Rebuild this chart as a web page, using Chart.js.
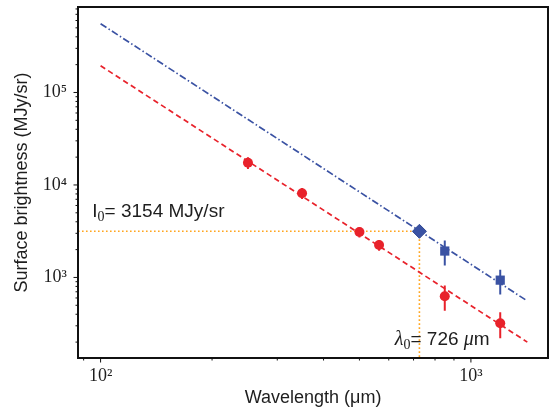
<!DOCTYPE html>
<html>
<head>
<meta charset="utf-8">
<script src="https://cdn.jsdelivr.net/npm/chart.js@4.4.1/dist/chart.umd.min.js"></script>
<style>
  html, body { margin: 0; padding: 0; background: #fff; }
  canvas { display: block; }
</style>
</head>
<body>
<canvas id="grafico" width="551" height="411"></canvas>
<script>
// valores
const redLambda = [250, 350, 500, 565, 850, 1200];
const redValue = [17400, 8150, 3100, 2240, 627, 320];
const redErr = [2500, 1100, 400, 300, 190, 100];

const blueLambda = [850, 1200];
const blueValue = [1930, 935];
const blueErr = [580, 280];

const peakLambda = [726];
const peakValue = [3154];

const fitLambda = [100, 1420];
const redFit = [194500, 200];
const blueFit = [554000, 557];

const xTickLabels = [[100, "10²"], [1000, "10³"]];
const yTickLabels = [[1000, "10³"], [10000, "10⁴"], [100000, "10⁵"]];

const VERMELHO = "#e8222b";
const AZUL = "#3a52a3";
const LARANJA = "#ffa51f";
const TEXTO = "#1e1e1e";

function pares(xs, ys) {
  return xs.map((x, i) => ({ x: x, y: ys[i] }));
}

function rotulo(lista, valor) {
  const achado = lista.find((t) => Math.abs(t[0] - valor) / t[0] < 1e-6);
  return achado ? achado[1] : "";
}

function semPadding(s) {
  s.paddingTop = 0;
  s.paddingBottom = 0;
  s.paddingLeft = 0;
  s.paddingRight = 0;
}

function desenhaErros(ctx, x, y, xs, ys, errs, cor) {
  ctx.strokeStyle = cor;
  ctx.lineWidth = 2;
  ctx.beginPath();
  xs.forEach((l, i) => {
    const px = x.getPixelForValue(l);
    ctx.moveTo(px, y.getPixelForValue(ys[i] + errs[i]));
    ctx.lineTo(px, y.getPixelForValue(ys[i] - errs[i]));
  });
  ctx.stroke();
}

// marcas dos eixos (maiores nas potencias de 10)
function marcas(escala, min, max, desenha) {
  for (let e = Math.floor(Math.log10(min)); e <= Math.ceil(Math.log10(max)); e++) {
    for (let k = 1; k <= 9; k++) {
      const v = k * Math.pow(10, e);
      if (v < min || v > max) continue;
      desenha(escala.getPixelForValue(v), k === 1 ? 4.5 : 2.5);
    }
  }
}

function escreve(ctx, x, y, partes) {
  let cx = x;
  partes.forEach(([texto, fonte, dy]) => {
    ctx.font = fonte;
    ctx.fillText(texto, cx, y + (dy || 0));
    cx += ctx.measureText(texto).width;
  });
}

const extras = {
  id: "extras",
  beforeDatasetsDraw(chart) {
    const { ctx, chartArea } = chart;
    const x = chart.scales.x;
    const y = chart.scales.y;
    ctx.save();
    // linhas pontilhadas de I0 e lambda0
    const px = x.getPixelForValue(peakLambda[0]);
    const py = y.getPixelForValue(peakValue[0]);
    ctx.strokeStyle = LARANJA;
    ctx.lineWidth = 1.6;
    ctx.setLineDash([1.6, 2.4]);
    ctx.beginPath();
    ctx.moveTo(chartArea.left, py);
    ctx.lineTo(px, py);
    ctx.moveTo(px, py);
    ctx.lineTo(px, chartArea.bottom);
    ctx.stroke();
    ctx.setLineDash([]);
    desenhaErros(ctx, x, y, redLambda, redValue, redErr, VERMELHO);
    desenhaErros(ctx, x, y, blueLambda, blueValue, blueErr, AZUL);
    ctx.restore();
  },
  afterDraw(chart) {
    const { ctx, chartArea } = chart;
    const x = chart.scales.x;
    const y = chart.scales.y;
    ctx.save();
    ctx.strokeStyle = "#111";
    ctx.lineWidth = 1;
    ctx.beginPath();
    marcas(x, x.min, x.max, (p, len) => {
      ctx.moveTo(p, chartArea.bottom);
      ctx.lineTo(p, chartArea.bottom + len);
    });
    marcas(y, y.min, y.max, (p, len) => {
      ctx.moveTo(chartArea.left, p);
      ctx.lineTo(chartArea.left - len, p);
    });
    ctx.stroke();
    ctx.lineWidth = 2;
    ctx.strokeRect(chartArea.left, chartArea.top, chartArea.right - chartArea.left, chartArea.bottom - chartArea.top);

    ctx.fillStyle = TEXTO;
    ctx.textBaseline = "middle";
    ctx.textAlign = "left";
    const sans = "19px 'Liberation Sans'";
    const sub = "14px 'Liberation Serif'";
    escreve(ctx, x.getPixelForValue(95), y.getPixelForValue(5100), [
      ["I", sans], ["0", sub, 5], ["= 3154 MJy/sr", sans]
    ]);
    escreve(ctx, x.getPixelForValue(623), y.getPixelForValue(210), [
      ["λ", "italic 20px 'Liberation Serif'"], ["0", sub, 5],
      ["= 726 ", sans], ["μ", "italic 20px 'Liberation Serif'"], ["m", sans]
    ]);
    ctx.restore();
  }
};

new Chart(document.getElementById("grafico"), {
  type: "scatter",
  data: {
    datasets: [
      {
        label: "pontos",
        data: pares(redLambda, redValue),
        pointStyle: "circle",
        pointRadius: 5,
        backgroundColor: VERMELHO,
        borderColor: VERMELHO,
        borderWidth: 0,
        order: 1,
      },
      {
        label: "quadrados",
        data: pares(blueLambda, blueValue),
        pointStyle: "rect",
        pointRadius: 6.5,
        backgroundColor: AZUL,
        borderColor: AZUL,
        borderWidth: 0,
        order: 1,
      },
      {
        label: "pico",
        data: pares(peakLambda, peakValue),
        pointStyle: "rectRot",
        pointRadius: 7,
        backgroundColor: AZUL,
        borderColor: "#2f4690",
        borderWidth: 1,
        order: 1,
      },
      {
        label: "ajuste vermelho",
        data: pares(fitLambda, redFit),
        showLine: true,
        pointRadius: 0,
        borderColor: VERMELHO,
        borderWidth: 1.7,
        borderDash: [5.5, 3.5],
        order: 2,
      },
      {
        label: "ajuste azul",
        data: pares(fitLambda, blueFit),
        showLine: true,
        pointRadius: 0,
        borderColor: AZUL,
        borderWidth: 1.7,
        borderDash: [7, 2.5, 1.5, 2.5],
        order: 2,
      },
    ],
  },
  options: {
    responsive: false,
    animation: false,
    devicePixelRatio: 1,
    layout: { autoPadding: false, padding: { left: 0, right: 3, top: 7, bottom: 0 } },
    plugins: { legend: { display: false }, tooltip: { enabled: false } },
    scales: {
      x: {
        type: "logarithmic",
        position: "bottom",
        min: 86.9,
        max: 1615,
        grid: { display: false, drawTicks: false },
        border: { display: false },
        afterFit: (s) => { s.height = 53; semPadding(s); },
        ticks: {
          autoSkip: false,
          maxRotation: 0,
          padding: 7,
          color: TEXTO,
          font: { family: "'Liberation Serif'", size: 18 },
          callback: (v) => rotulo(xTickLabels, v),
        },
        title: {
          display: true,
          text: "Wavelength (μm)",
          color: TEXTO,
          font: { family: "'Liberation Sans'", size: 18 },
          padding: { top: 0, bottom: 2 },
        },
      },
      y: {
        type: "logarithmic",
        min: 134.6,
        max: 840000,
        grid: { display: false, drawTicks: false },
        border: { display: false },
        afterFit: (s) => { s.width = 78; semPadding(s); },
        ticks: {
          autoSkip: false,
          padding: 11,
          color: TEXTO,
          font: { family: "'Liberation Serif'", size: 18 },
          callback: (v) => rotulo(yTickLabels, v),
        },
        title: {
          display: true,
          text: "Surface brightness (MJy/sr)",
          color: TEXTO,
          font: { family: "'Liberation Sans'", size: 18 },
          padding: { top: 11, bottom: 0 },
        },
      },
    },
  },
  plugins: [extras],
});
</script>
</body>
</html>
